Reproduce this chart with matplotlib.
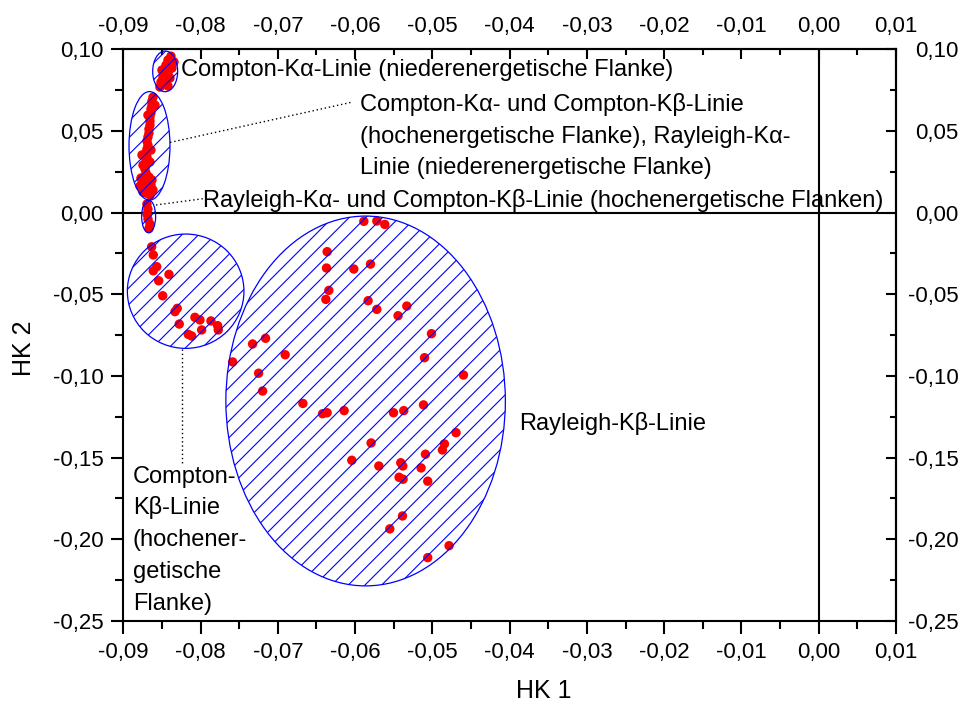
import matplotlib
matplotlib.use("Agg")
import matplotlib.pyplot as plt
from matplotlib.patches import Ellipse
from matplotlib.ticker import MultipleLocator, FuncFormatter

plt.rcParams['font.family'] = ['Liberation Sans', 'DejaVu Sans']
plt.rcParams['hatch.linewidth'] = 0.8

# ---- data (HK 1, HK 2 scores) ----
ka_low_x = [-0.08383, -0.08422, -0.08344, -0.08448, -0.0837, -0.085, -0.08422,
            -0.08487, -0.08396, -0.08513, -0.08448, -0.08526, -0.08422]
ka_low_y = [0.0958, 0.0934, 0.0922, 0.0903, 0.0885, 0.0873, 0.0854,
            0.0830, 0.0824, 0.0799, 0.0787, 0.0769, 0.0775]

mix_x = [-0.08616, -0.08629, -0.08629, -0.08642, -0.08642, -0.08655, -0.08655,
         -0.08655, -0.08668, -0.08668, -0.08681, -0.08694, -0.08681, -0.08694,
         -0.08706, -0.08694, -0.08706, -0.08706, -0.08719, -0.08706, -0.08719,
         -0.08694, -0.08732, -0.08681, -0.08706, -0.08758, -0.08642, -0.08668,
         -0.08771, -0.08629, -0.08784, -0.08616, -0.08745, -0.08655, -0.08758,
         -0.08642, -0.08745, -0.08655, -0.08590, -0.08681]
mix_y = [0.0707, 0.0683, 0.0658, 0.0634, 0.0610, 0.0585, 0.0561,
         0.0536, 0.0512, 0.0487, 0.0463, 0.0438, 0.0414, 0.0389,
         0.0365, 0.0340, 0.0316, 0.0291, 0.0267, 0.0242, 0.0218,
         0.0193, 0.0169, 0.0144, 0.0120, 0.0200, 0.0169, 0.0218,
         0.0212, 0.0200, 0.0163, 0.0139, 0.0126, 0.0108, 0.0353,
         0.0383, 0.0291, 0.0310, 0.0658, 0.0597]

ray_ka_x = [-0.08668, -0.08655, -0.08681, -0.08694, -0.08681, -0.08694]
ray_ka_y = [-0.0097, -0.0070, -0.0039, -0.0009, 0.0022, 0.0053]

ckb_x = [-0.08633, -0.08612, -0.08568, -0.08612, -0.08409, -0.08542, -0.0849,
         -0.08302, -0.08331, -0.08276, -0.08073, -0.08008, -0.07866, -0.07779,
         -0.07771, -0.07986, -0.08159, -0.08115]
ckb_y = [-0.0209, -0.0259, -0.0331, -0.0356, -0.0378, -0.0417, -0.0509,
         -0.0586, -0.0606, -0.0682, -0.0641, -0.0657, -0.0663, -0.0692,
         -0.0718, -0.0718, -0.0745, -0.0755]

rkb_x = [-0.05887, -0.05719, -0.05616, -0.06362, -0.0637, -0.06017, -0.05801,
         -0.0634, -0.06379, -0.05832, -0.05719, -0.05331, -0.05444, -0.07327,
         -0.07159, -0.06905, -0.07585, -0.07249, -0.07197, -0.05012, -0.05102,
         -0.04598, -0.06676, -0.05115, -0.06421, -0.06362, -0.06142, -0.05503,
         -0.0537, -0.04694, -0.04844, -0.0487, -0.05793, -0.06043, -0.05693,
         -0.05409, -0.05383, -0.0509, -0.05146, -0.05431, -0.05379, -0.0506,
         -0.05387, -0.05551, -0.04784, -0.0506]
rkb_y = [-0.0053, -0.0051, -0.0072, -0.0239, -0.0339, -0.0345, -0.0315,
         -0.0476, -0.0531, -0.0539, -0.0592, -0.0572, -0.0631, -0.0804,
         -0.0769, -0.0870, -0.0914, -0.0983, -0.1092, -0.0741, -0.0888,
         -0.0994, -0.1168, -0.1177, -0.1231, -0.1225, -0.1212, -0.1225,
         -0.1212, -0.1347, -0.1416, -0.1453, -0.1410, -0.1516, -0.1551,
         -0.1531, -0.1551, -0.1479, -0.1563, -0.1620, -0.1632, -0.1644,
         -0.1857, -0.1936, -0.2039, -0.2112]

# ellipses: (center x, center y, width, height)
ell_centers_x = [-0.08458, -0.08661, -0.08672, -0.08193, -0.05864]
ell_centers_y = [0.0865, 0.0409, -0.0023, -0.0481, -0.1153]
ell_widths = [0.00323, 0.0053, 0.00181, 0.01509, 0.03617]
ell_heights = [0.0249, 0.0664, 0.0200, 0.0700, 0.2264]

x_ticks = [-0.09, -0.08, -0.07, -0.06, -0.05, -0.04, -0.03, -0.02, -0.01, 0.00, 0.01]
y_ticks = [-0.25, -0.20, -0.15, -0.10, -0.05, 0.00, 0.05, 0.10]


def fmt(v, pos=None):
    if abs(v) < 1e-9:
        v = 0.0
    return ("%.2f" % v).replace('.', ',')


fig = plt.figure(figsize=(9.65, 7.03), dpi=100)
ax = fig.add_axes([0.12777, 0.11664, 0.80073, 0.81323])
ax.set_xlim(-0.09, 0.01)
ax.set_ylim(-0.25, 0.10)

ax.axhline(0, color='black', lw=1.5, zorder=1.5)
ax.axvline(0, color='black', lw=1.5, zorder=1.5)

for xs, ys in [(ka_low_x, ka_low_y), (mix_x, mix_y), (ray_ka_x, ray_ka_y),
               (ckb_x, ckb_y), (rkb_x, rkb_y)]:
    ax.scatter(xs, ys, s=46, c='#ff0000', edgecolors='none', zorder=2)

for cx, cy, w, h in zip(ell_centers_x, ell_centers_y, ell_widths, ell_heights):
    ax.add_patch(Ellipse((cx, cy), w, h, facecolor='none', edgecolor='#0000ff',
                         lw=0.9, hatch='//', zorder=3))

# leader lines
dot = dict(color='black', lw=1.0, linestyle=(0, (1, 2)), zorder=4)
ax.plot([-0.08394, -0.06044], [0.0430, 0.0676], **dot)
ax.plot([-0.08577, -0.07879], [0.0047, 0.0091], **dot)
ax.plot([-0.08245, -0.08245], [-0.0837, -0.1534], **dot)

fs = 17
ax.text(-0.08254, 0.0836, 'Compton-K\u03b1-Linie (niederenergetische Flanke)',
        fontsize=fs, va='baseline', ha='left')
for yy, s in zip([0.0622, 0.0428, 0.0234],
                 ['Compton-K\u03b1- und Compton-K\u03b2-Linie',
                  '(hochenergetische Flanke), Rayleigh-K\u03b1-',
                  'Linie (niederenergetische Flanke)']):
    ax.text(-0.05939, yy, s, fontsize=fs, va='baseline', ha='left')
ax.text(-0.07969, 0.0036,
        'Rayleigh-K\u03b1- und Compton-K\u03b2-Linie (hochenergetische Flanken)',
        fontsize=fs, va='baseline', ha='left')
ax.text(-0.03883, -0.1333, 'Rayleigh-K\u03b2-Linie', fontsize=fs,
        va='baseline', ha='left')
for yy, s in zip([-0.1653, -0.1847, -0.2042, -0.2236, -0.2432],
                 ['Compton-', 'K\u03b2-Linie', '(hochener-', 'getische', 'Flanke)']):
    ax.text(-0.08878, yy, s, fontsize=fs, va='baseline', ha='left')

# axes formatting
tl = 16
for sp in ax.spines.values():
    sp.set_linewidth(1.5)
ax.set_xticks(x_ticks)
ax.set_yticks(y_ticks)
ax.xaxis.set_minor_locator(MultipleLocator(0.005))
ax.yaxis.set_minor_locator(MultipleLocator(0.025))
ax.xaxis.set_major_formatter(FuncFormatter(fmt))
ax.yaxis.set_major_formatter(FuncFormatter(fmt))
ax.tick_params(which='both', direction='out', top=False, right=False,
               width=1.5, labelsize=tl)
ax.tick_params(which='major', length=9)
ax.tick_params(which='minor', length=5.5)
ax.tick_params(axis='x', pad=6)
ax.tick_params(axis='y', pad=5)

secx = ax.secondary_xaxis('top')
secx.set_xticks(x_ticks)
secx.xaxis.set_minor_locator(MultipleLocator(0.005))
secx.xaxis.set_major_formatter(FuncFormatter(fmt))
secx.tick_params(which='both', direction='in', width=1.5, labelsize=tl, pad=9)
secx.tick_params(which='major', length=7)
secx.tick_params(which='minor', length=4.5)
secx.spines['top'].set_linewidth(1.5)

secy = ax.secondary_yaxis('right')
secy.set_yticks(y_ticks)
secy.yaxis.set_minor_locator(MultipleLocator(0.025))
secy.yaxis.set_major_formatter(FuncFormatter(fmt))
secy.tick_params(which='both', direction='in', width=1.5, labelsize=tl, pad=45)
secy.tick_params(which='major', length=7)
secy.tick_params(which='minor', length=4.5)
secy.spines['right'].set_linewidth(1.5)
for t in secy.get_yticklabels():
    t.set_horizontalalignment('right')

ax.set_xlabel('HK 1', fontsize=18)
ax.set_ylabel('HK 2', fontsize=18)
ax.xaxis.set_label_coords(0.5445, -0.1015)
ax.yaxis.set_label_coords(-0.113, 0.4766)

fig.savefig('out.png', dpi=100)
